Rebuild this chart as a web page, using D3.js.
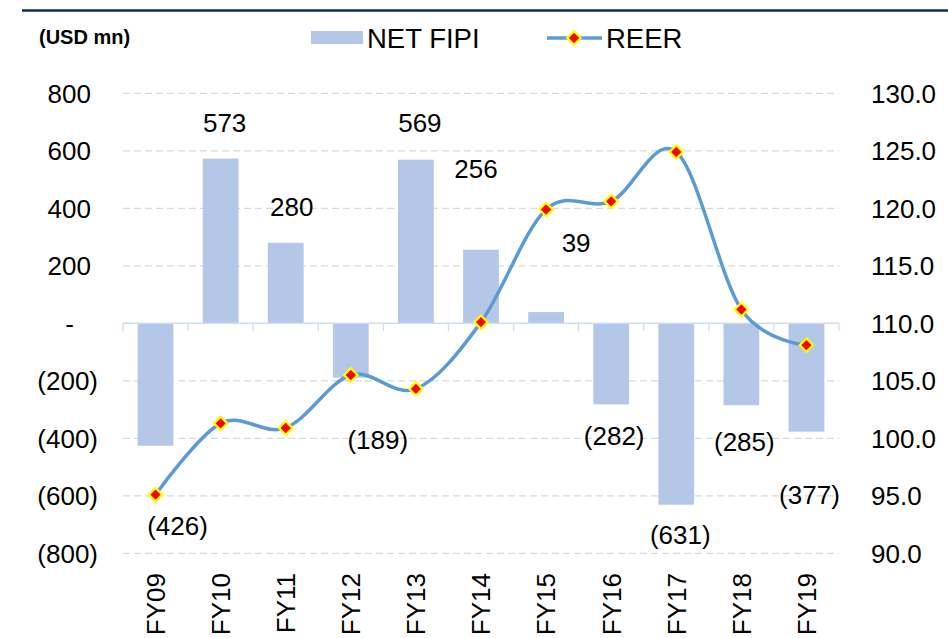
<html>
<head>
<meta charset="utf-8">
<style>
  body { margin: 0; background: white; }
  text { font-family: "Liberation Sans", Arial, sans-serif; fill: #000; }
</style>
</head>
<body>
<script src="https://d3js.org/d3.v7.min.js"></script>
<script>
// chart data
var years = ["FY09","FY10","FY11","FY12","FY13","FY14","FY15","FY16","FY17","FY18","FY19"];
var netFipi = [-426, 573, 280, -189, 569, 256, 39, -282, -631, -285, -377];
var reer = [95.1, 101.3, 100.9, 105.5, 104.3, 110.1, 119.9, 120.6, 124.9, 111.2, 108.1];
var leftTicks = [800, 600, 400, 200, 0, -200, -400, -600, -800];
var rightTicks = [130, 125, 120, 115, 110, 105, 100, 95, 90];

// data labels were moved by hand in the original, keep the nudges (px)
var labelNudge = [[22, 80], [4, -36], [6, -36], [27, 62], [4, -37], [-5, -81],
                  [30, -69], [3, 32], [4, 30], [3, 37], [3, 63]];

var w = 948, h = 638;
// plot area (note: "top" is taken by window.top)
var plotL = 123, plotR = 839, plotT = 93.3, plotB = 553.3;

var svg = d3.select("body").append("svg")
  .attr("width", w)
  .attr("height", h);

var x = d3.scaleBand()
  .domain(years)
  .range([plotL, plotR])
  .paddingInner(0.45)
  .paddingOuter(0.225);

var y = d3.scaleLinear().domain([-800, 800]).range([plotB, plotT]);
var y2 = d3.scaleLinear().domain([90, 130]).range([plotB, plotT]);

function fmt(v) {
  if (v < 0) return "(" + Math.abs(v) + ")";
  if (v == 0) return "-";
  return "" + v;
}

// top rule
svg.append("line")
  .attr("x1", 22).attr("x2", w)
  .attr("y1", 10.5).attr("y2", 10.5)
  .attr("stroke", "#12295f")
  .attr("stroke-width", 2.5);

// gridlines
svg.append("g")
  .selectAll("line")
  .data(leftTicks.filter(function(d) { return d != 0; }))
  .enter().append("line")
  .attr("x1", plotL).attr("x2", plotR)
  .attr("y1", function(d) { return y(d); })
  .attr("y2", function(d) { return y(d); })
  .attr("stroke", "#d9d9d9")
  .attr("stroke-width", 1.3)
  .attr("stroke-dasharray", "7,4");

// left axis
var yAxis = svg.append("g")
  .attr("transform", "translate(98,0)")
  .call(d3.axisLeft(y).tickValues(leftTicks).tickSize(0).tickFormat(fmt));
yAxis.select(".domain").remove();
yAxis.selectAll("text")
  .attr("x", function(d) { return d < 0 ? 0 : (d == 0 ? -24 : -7); })
  .attr("dy", "0.35em")
  .style("font-family", "'Liberation Sans', Arial, sans-serif")
  .style("font-size", "26px")
  .attr("fill", "#000");

// right axis
var yAxis2 = svg.append("g")
  .attr("transform", "translate(871,0)")
  .call(d3.axisRight(y2).tickValues(rightTicks).tickSize(0).tickFormat(d3.format(".1f")));
yAxis2.select(".domain").remove();
yAxis2.selectAll("text")
  .attr("x", 0)
  .attr("dy", "0.35em")
  .style("font-family", "'Liberation Sans', Arial, sans-serif")
  .style("font-size", "26px")
  .attr("fill", "#000");

// bars
svg.append("g")
  .selectAll("rect")
  .data(netFipi)
  .enter().append("rect")
  .attr("x", function(d, i) { return x(years[i]); })
  .attr("width", x.bandwidth())
  .attr("y", function(d) { return y(Math.max(0, d)); })
  .attr("height", function(d) { return Math.abs(y(d) - y(0)); })
  .attr("fill", "#b4c7e7");

// category axis at zero
svg.append("line")
  .attr("x1", plotL).attr("x2", plotR)
  .attr("y1", y(0)).attr("y2", y(0))
  .attr("stroke", "#cddcf0")
  .attr("stroke-width", 1.6);
svg.append("g")
  .selectAll("line")
  .data(d3.range(years.length + 1))
  .enter().append("line")
  .attr("x1", function(i) { return plotL + i * x.step(); })
  .attr("x2", function(i) { return plotL + i * x.step(); })
  .attr("y1", y(0)).attr("y2", y(0) + 8)
  .attr("stroke", "#cddcf0")
  .attr("stroke-width", 1.3);

// x labels (rotated)
svg.append("g")
  .selectAll("text")
  .data(years)
  .enter().append("text")
  .attr("transform", function(d) {
    return "translate(" + (x(d) + x.bandwidth() / 2) + ",573) rotate(-90)";
  })
  .attr("text-anchor", "end")
  .attr("dy", "0.36em")
  .style("font-size", "26px")
  .text(function(d) { return d; });

// bar labels
svg.append("g")
  .selectAll("text")
  .data(netFipi)
  .enter().append("text")
  .attr("x", function(d, i) { return x(years[i]) + x.bandwidth() / 2 + labelNudge[i][0]; })
  .attr("y", function(d, i) { return y(d) + labelNudge[i][1]; })
  .attr("dy", "0.35em")
  .attr("text-anchor", "middle")
  .style("font-size", "26px")
  .text(fmt);

// REER line
var line = d3.line()
  .x(function(d, i) { return x(years[i]) + x.bandwidth() / 2; })
  .y(function(d) { return y2(d); })
  .curve(d3.curveCardinal.tension(0));

svg.append("path")
  .datum(reer)
  .attr("d", line)
  .attr("fill", "none")
  .attr("stroke", "#5b9bd5")
  .attr("stroke-width", 3.5);

var diamond = d3.symbol().type(d3.symbolDiamond2).size(115);

svg.append("g")
  .selectAll("path")
  .data(reer)
  .enter().append("path")
  .attr("d", diamond)
  .attr("transform", function(d, i) {
    return "translate(" + (x(years[i]) + x.bandwidth() / 2) + "," + y2(d) + ")";
  })
  .attr("fill", "#ff0000")
  .attr("stroke", "#ffff00")
  .attr("stroke-width", 2.2);

// legend
svg.append("text")
  .attr("x", 39).attr("y", 44)
  .style("font-size", "20px")
  .style("font-weight", "bold")
  .text("(USD mn)");

svg.append("rect")
  .attr("x", 311).attr("y", 31)
  .attr("width", 52).attr("height", 13)
  .attr("fill", "#b4c7e7");
svg.append("text")
  .attr("x", 367).attr("y", 47.5)
  .style("font-size", "27.5px")
  .text("NET FIPI");

svg.append("line")
  .attr("x1", 547).attr("x2", 602)
  .attr("y1", 38).attr("y2", 38)
  .attr("stroke", "#5b9bd5")
  .attr("stroke-width", 3.5);
svg.append("path")
  .attr("d", diamond)
  .attr("transform", "translate(574,38)")
  .attr("fill", "#ff0000")
  .attr("stroke", "#ffff00")
  .attr("stroke-width", 2.2);
svg.append("text")
  .attr("x", 606).attr("y", 47.5)
  .style("font-size", "27.5px")
  .text("REER");
</script>
</body>
</html>
